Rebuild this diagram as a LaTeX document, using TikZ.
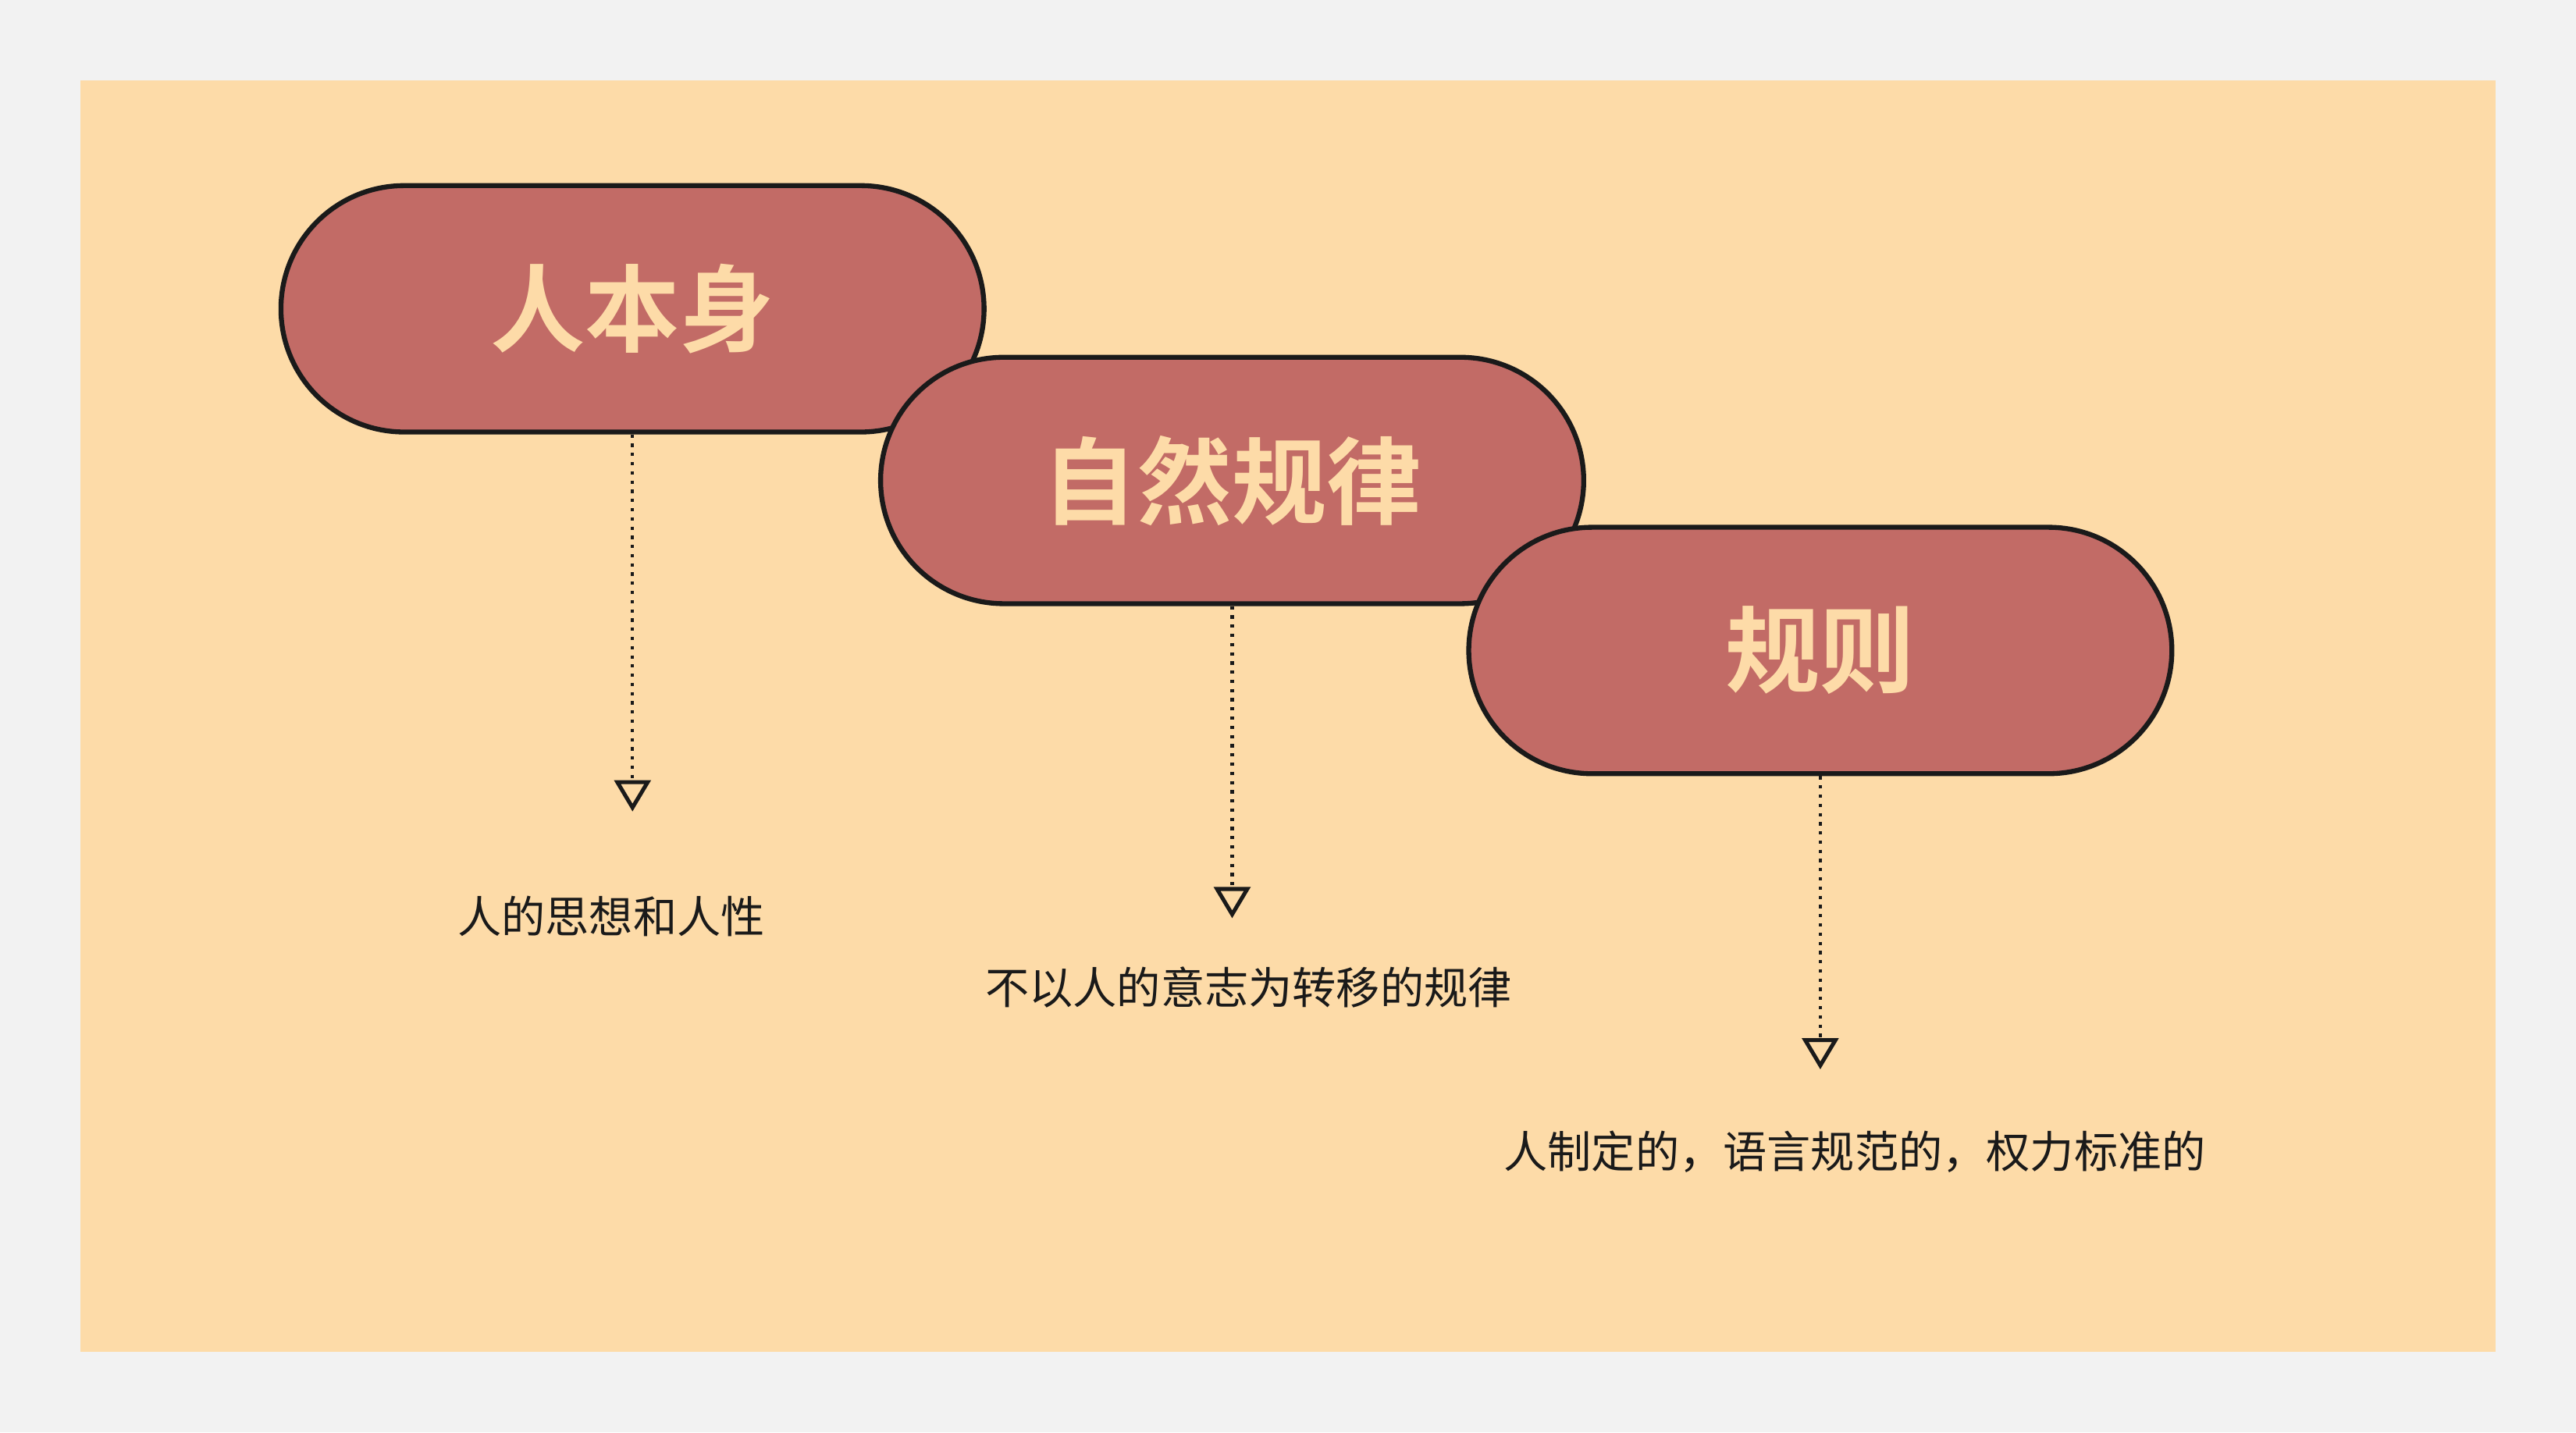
\documentclass[tikz,border=0pt]{standalone}
\usepackage{fontspec}
\newfontfamily\cjk{Noto Sans CJK SC}
\newfontfamily\cjkb{Noto Sans CJK SC Bold}
\usetikzlibrary{arrows.meta}
\definecolor{bgout}{HTML}{F2F2F2}
\definecolor{panel}{HTML}{FDDBA8}
\definecolor{pillfill}{HTML}{C26B66}
\definecolor{edge}{HTML}{1A1A1A}
\tikzset{
  pill/.style={draw=edge, line width=0.15cm, fill=pillfill, rounded corners=3.75cm,
    minimum width=21.4cm, minimum height=7.5cm, inner sep=0pt,
    font=\cjkb\fontsize{82}{90}\selectfont, text=panel},
  lbl/.style={font=\cjk\fontsize{38}{44}\selectfont, text=edge, inner sep=0pt},
  conn/.style={draw=edge, line width=0.1cm, dash pattern=on 0.1cm off 0.18cm,
    -{Triangle[open, length=0.95cm, width=1.1cm, line width=0.12cm]}},
}
\begin{document}
\begin{tikzpicture}[x=0.05cm,y=-0.05cm]
\fill[bgout] (0,0) rectangle (1568,872);
\fill[panel] (49,49) rectangle (1519,823);
\node[pill] (p1) at (385,188) {人本身};
\node[pill] (p2) at (750,292.5) {自然规律};
\node[pill] (p3) at (1108,396) {规则};
\coordinate (e1) at (385,494);
\coordinate (e2) at (750,559);
\coordinate (e3) at (1108,651);
\draw[conn] (p1.south) -- (e1);
\draw[conn] (p2.south) -- (e2);
\draw[conn] (p3.south) -- (e3);
\node[lbl] (l1) at (372,558) {人的思想和人性};
\node[lbl] (l2) at (760,601) {不以人的意志为转移的规律};
\node[lbl] (l3) at (1129,701) {人制定的，语言规范的，权力标准的};
\end{tikzpicture}
\end{document}
